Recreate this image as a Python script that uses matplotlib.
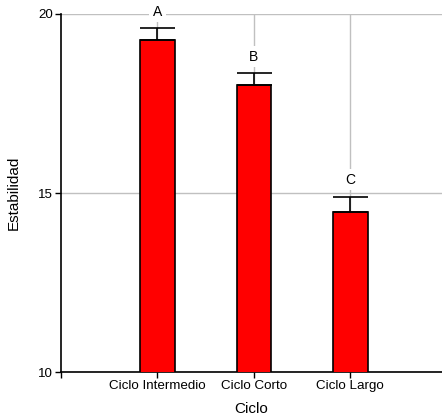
import matplotlib
matplotlib.use("Agg")
import matplotlib.pyplot as plt

plt.rcParams['font.family'] = ['Liberation Sans', 'DejaVu Sans']

categories = ["Ciclo Intermedio", "Ciclo Corto", "Ciclo Largo"]
means = [19.27, 18.01, 14.47]
errors = [0.33, 0.33, 0.43]
letters = ["A", "B", "C"]
y_ticks = [10, 15, 20]

fig = plt.figure(figsize=(4.42, 4.19), dpi=100)
ax = fig.add_axes([61/442, 1 - 372/419, 1 - 61/442, (372 - 14)/419])

x = list(range(len(categories)))
ax.bar(x, means, width=0.36, color="#ff0000", edgecolor="black", linewidth=1.2, zorder=3)
ax.errorbar(x, means, yerr=[[0]*len(errors), errors], fmt="none", ecolor="black",
            elinewidth=1.2, capsize=12.6, capthick=1.2, zorder=4)

for xi, m, e, lab in zip(x, means, errors, letters):
    ax.annotate(lab, (xi, m + e), xytext=(0, 12), textcoords="offset points",
                ha="center", va="center", fontsize=10, zorder=5,
                bbox=dict(boxstyle="square,pad=0.25", fc="white", ec="none"))

ax.set_xlim(-1, 2.95)
ax.set_ylim(10, 20)
ax.set_xticks(x)
ax.set_xticklabels(categories, fontsize=9.6)
ax.set_xticks([-1], minor=True)
ax.set_yticks(y_ticks)
ax.set_yticklabels([str(t) for t in y_ticks], fontsize=9.6)
ax.tick_params(axis="both", which="both", direction="out", length=4, width=1, pad=2)

ax.grid(True, color="#c0c0c0", linewidth=1, zorder=0)
ax.set_axisbelow(True)
for s in ["top", "right"]:
    ax.spines[s].set_visible(False)
for s in ["left", "bottom"]:
    ax.spines[s].set_linewidth(1.2)

ax.set_xlabel("Ciclo", fontsize=11, labelpad=7)
ax.set_ylabel("Estabilidad", fontsize=11, labelpad=12)

fig.savefig("out.png", dpi=100)
